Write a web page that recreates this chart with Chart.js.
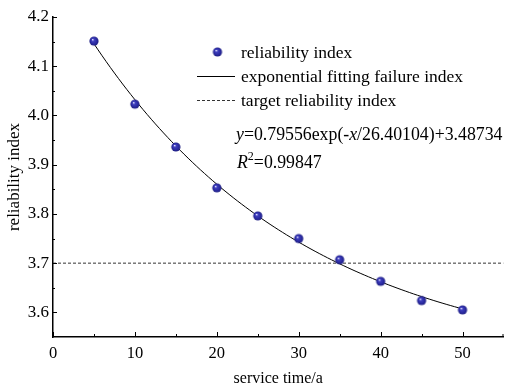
<!DOCTYPE html>
<html>
<head>
<meta charset="utf-8">
<script src="https://cdn.jsdelivr.net/npm/chart.js@4.4.1/dist/chart.umd.min.js"></script>
<style>
  html, body { margin: 0; padding: 0; background: #fff; }
  #wrap { width: 505px; height: 388px; }
</style>
</head>
<body>
<div id="wrap"><canvas id="c" width="505" height="388"></canvas></div>
<script>
// Service time (years) and computed reliability index
const serviceYears = [5, 10, 15, 20, 25, 30, 35, 40, 45, 50];
const reliabilityValues = [4.151, 4.023, 3.936, 3.853, 3.796, 3.750, 3.707, 3.663, 3.624, 3.605];

// Exponential fit coefficients: y = A*exp(-x/t) + y0
const fitA = 0.79556;
const fitT = 26.40104;
const fitY0 = 3.48734;
const fitR2 = '0.99847';
const fitRange = [5, 50];

// Target reliability index
const targetIndex = 3.7;

// Axis ranges and tick values
const xRange = [0, 55];
const yRange = [3.55, 4.2];
const xTickLabels = [0, 10, 20, 30, 40, 50];
const yTickLabels = [3.6, 3.7, 3.8, 3.9, 4.0, 4.1, 4.2];

const legendLabels = ['reliability index', 'exponential fitting failure index', 'target reliability index'];
const xTitle = 'service time/a';
const yTitle = 'reliability index';

const SERIF = '"Liberation Serif", "Times New Roman", serif';

// Fitted curve sampled along the stated equation
const fitPoints = [];
for (let x = fitRange[0]; x <= fitRange[1] + 1e-9; x += 0.5) {
  fitPoints.push({ x: x, y: fitA * Math.exp(-x / fitT) + fitY0 });
}

// Shaded sphere marker (drawn at its own size as the point style)
function makeBall(r) {
  const c = document.createElement('canvas');
  const s = Math.ceil(r * 2 + 2);
  c.width = s; c.height = s;
  const g = c.getContext('2d');
  const cx = s / 2, cy = s / 2;
  const grad = g.createRadialGradient(cx - r * 0.3, cy - r * 0.35, r * 0.05, cx, cy, r);
  grad.addColorStop(0, '#e8e8ff');
  grad.addColorStop(0.25, '#4040c0');
  grad.addColorStop(0.7, '#2a2aa0');
  grad.addColorStop(1, '#1c1c80');
  g.fillStyle = grad;
  g.beginPath(); g.arc(cx, cy, r, 0, Math.PI * 2); g.fill();
  return c;
}
const ball = makeBall(4.6);

const decor = {
  id: 'decor',
  afterDraw(chart) {
    const ctx = chart.ctx;
    const xs = chart.scales.x, ys = chart.scales.y;
    const area = chart.chartArea;
    ctx.save();
    ctx.strokeStyle = '#000';
    ctx.lineWidth = 1;
    // x ticks (inward)
    for (let v = xRange[0]; v <= xRange[1]; v += 5) {
      const px = Math.min(Math.round(xs.getPixelForValue(v)) + 0.5, area.right - 0.5);
      const len = (v % 10 === 0) ? 5 : 3;
      ctx.beginPath(); ctx.moveTo(px, area.bottom); ctx.lineTo(px, area.bottom - len); ctx.stroke();
    }
    // y ticks (inward)
    for (let i = 1; i <= 13; i++) {
      const v = yRange[0] + i * 0.05;
      const py = Math.round(ys.getPixelForValue(v)) + 0.5;
      const major = Math.abs(Math.round(v * 10) - v * 10) < 1e-6;
      ctx.beginPath(); ctx.moveTo(area.left, py); ctx.lineTo(area.left + (major ? 4 : 2), py); ctx.stroke();
    }

    // legend
    ctx.fillStyle = '#000';
    ctx.font = '17.5px ' + SERIF;
    ctx.textBaseline = 'alphabetic';
    ctx.textAlign = 'left';
    ctx.drawImage(ball, 217.5 - ball.width / 2, 52 - ball.height / 2);
    ctx.fillText(legendLabels[0], 241, 58);
    ctx.beginPath(); ctx.moveTo(197, 76.5); ctx.lineTo(235, 76.5); ctx.stroke();
    ctx.fillText(legendLabels[1], 241, 82);
    ctx.strokeStyle = '#333';
    ctx.setLineDash([3, 2]);
    ctx.beginPath(); ctx.moveTo(197, 100.5); ctx.lineTo(235, 100.5); ctx.stroke();
    ctx.setLineDash([]);
    ctx.fillText(legendLabels[2], 241, 106);

    // equation
    const eqParts = [
      ['y', true], ['=' + fitA + 'exp(-', false], ['x', true],
      ['/' + fitT.toFixed(5) + ')+' + fitY0, false]
    ];
    let x = 236;
    for (const [t, it] of eqParts) {
      ctx.font = (it ? 'italic ' : '') + '17.8px ' + SERIF;
      ctx.fillText(t, x, 140);
      x += ctx.measureText(t).width;
    }
    x = 237;
    ctx.font = 'italic 17.8px ' + SERIF;
    ctx.fillText('R', x, 168);
    x += ctx.measureText('R').width;
    ctx.font = '12px ' + SERIF;
    ctx.fillText('2', x, 160);
    x += ctx.measureText('2').width;
    ctx.font = '17.8px ' + SERIF;
    ctx.fillText('=' + fitR2, x, 168);

    // axis titles
    ctx.font = '16px ' + SERIF;
    ctx.textAlign = 'center';
    ctx.textBaseline = 'middle';
    ctx.fillText(xTitle, (area.left + area.right) / 2, 379);
    ctx.translate(15, (area.top + area.bottom) / 2);
    ctx.rotate(-Math.PI / 2);
    ctx.font = '17px ' + SERIF;
    ctx.fillText(yTitle, 0, 0);
    ctx.restore();
  }
};

new Chart(document.getElementById('c'), {
  type: 'scatter',
  data: {
    datasets: [
      {
        label: legendLabels[0],
        data: serviceYears.map((x, i) => ({ x: x, y: reliabilityValues[i] })),
        pointStyle: ball,
        pointRadius: 0.2,
        pointHoverRadius: 0,
        pointBorderWidth: 0,
        order: 0
      },
      {
        type: 'line',
        label: legendLabels[1],
        data: fitPoints,
        borderColor: '#000',
        borderWidth: 1,
        pointRadius: 0,
        pointHoverRadius: 0,
        tension: 0,
        order: 1
      },
      {
        type: 'line',
        label: legendLabels[2],
        data: [{ x: xRange[0], y: targetIndex }, { x: xRange[1], y: targetIndex }],
        borderColor: '#333',
        borderWidth: 1,
        borderDash: [3, 2],
        pointRadius: 0,
        pointHoverRadius: 0,
        order: 2
      }
    ]
  },
  options: {
    responsive: false,
    animation: false,
    events: [],
    layout: { padding: { top: 17, right: 1.5, left: 0, bottom: 0 } },
    plugins: { legend: { display: false }, tooltip: { enabled: false } },
    scales: {
      x: {
        type: 'linear',
        min: xRange[0], max: xRange[1],
        afterBuildTicks(s) { s.ticks = xTickLabels.map(v => ({ value: v })); },
        afterFit(s) { s.height = 51; s.paddingRight = 0; s.paddingLeft = 0; },
        grid: { display: false, drawTicks: false },
        border: { display: true, color: '#000', width: 1.5 },
        ticks: { color: '#000', padding: 7, font: { family: SERIF, size: 16.5 } }
      },
      y: {
        type: 'linear',
        min: yRange[0], max: yRange[1],
        afterBuildTicks(s) { s.ticks = yTickLabels.map(v => ({ value: v })); },
        afterFit(s) { s.width = 53; s.paddingTop = 0; s.paddingBottom = 0; },
        grid: { display: false, drawTicks: false },
        border: { display: true, color: '#000', width: 1.5 },
        ticks: { color: '#000', padding: 4, font: { family: SERIF, size: 17 },
                 callback: v => v.toFixed(1) }
      }
    }
  },
  plugins: [decor]
});
</script>
</body>
</html>
